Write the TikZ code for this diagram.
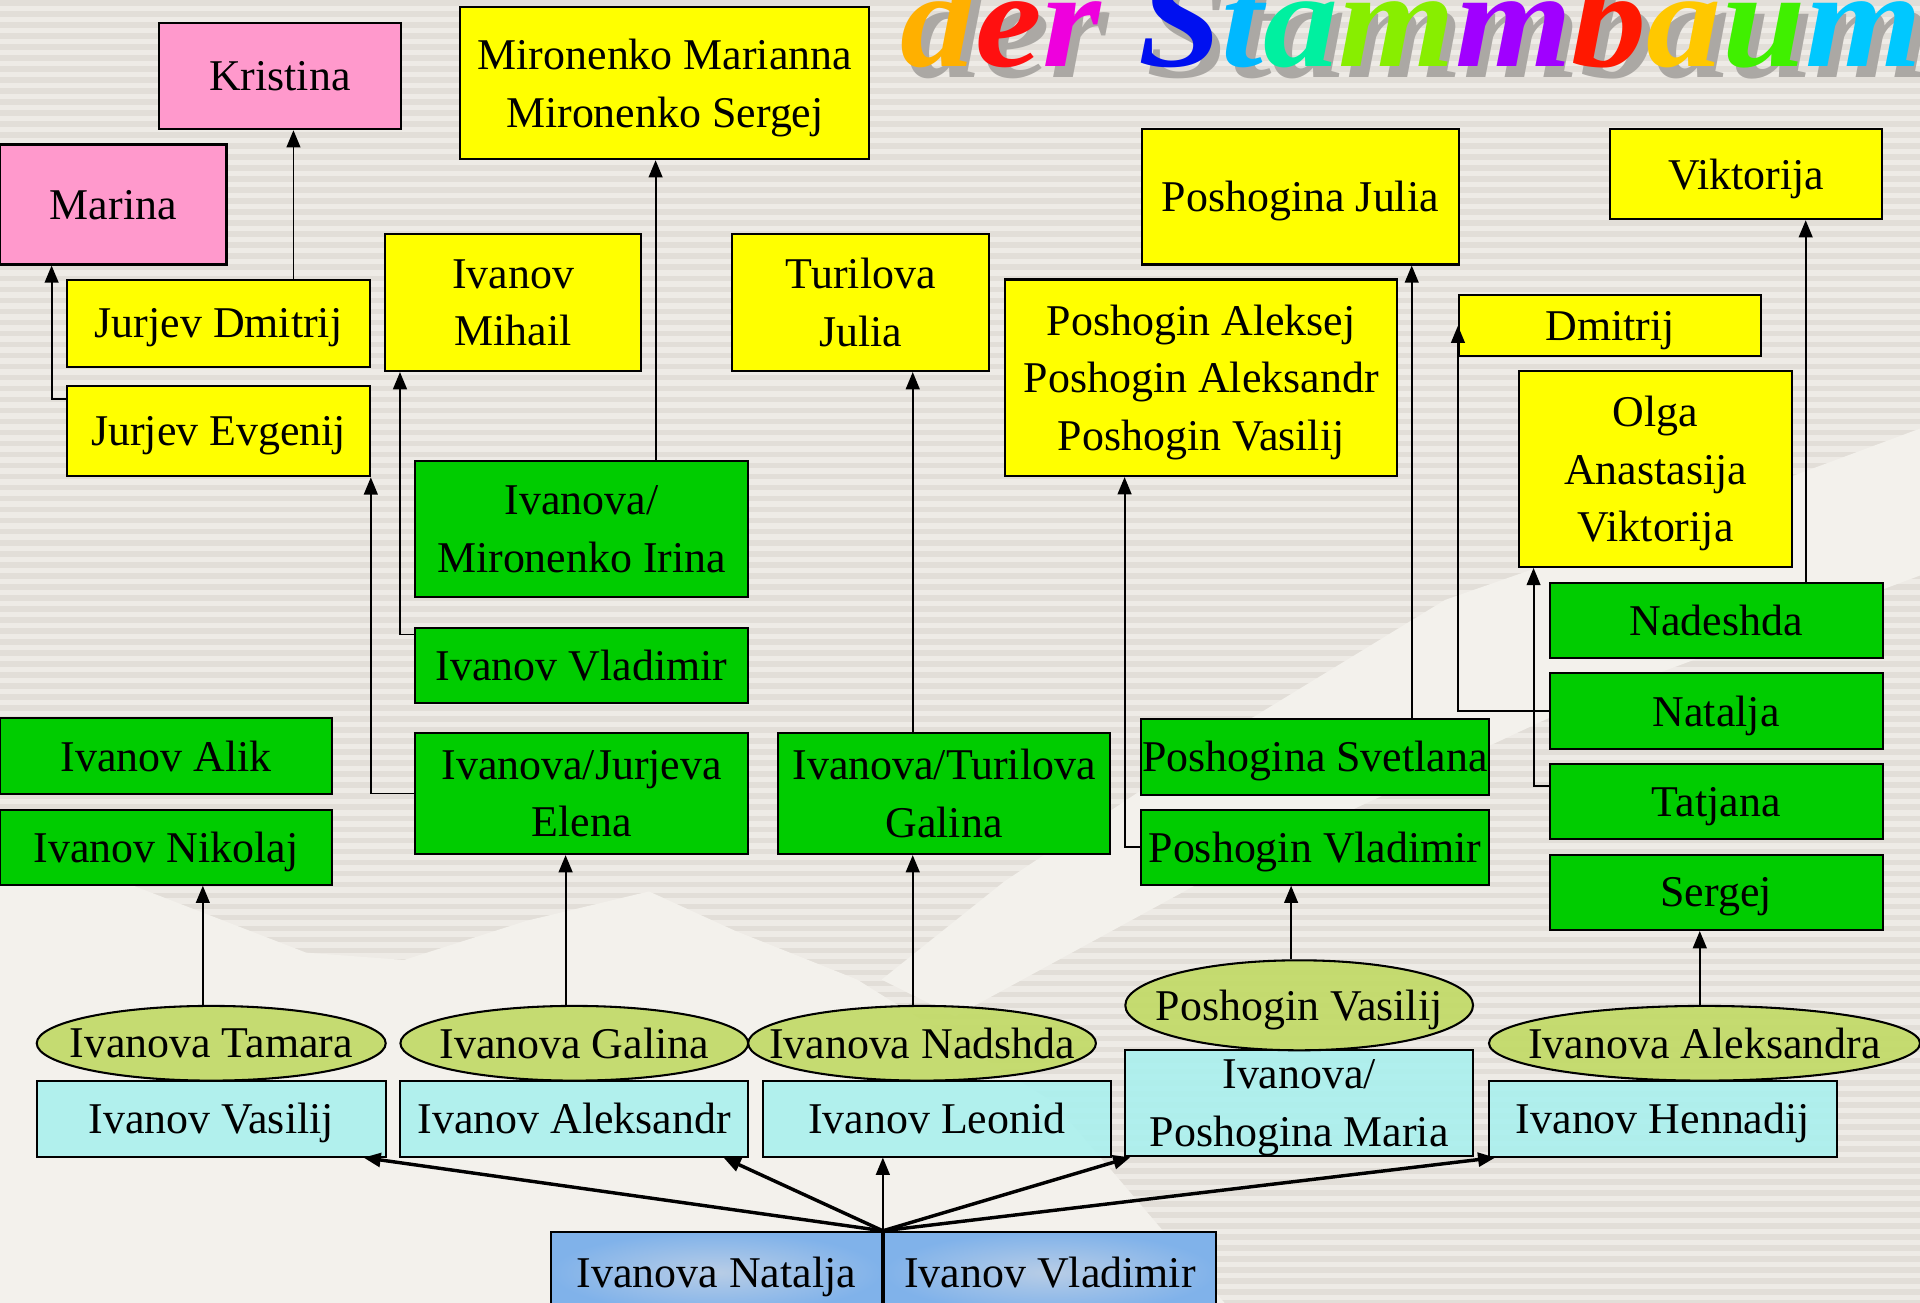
\documentclass[tikz,border=0pt]{standalone}
\usepackage{fontspec}
\setmainfont{Liberation Serif}
\usetikzlibrary{calc,positioning,shapes.geometric,arrows.meta}

\definecolor{cRosa}{HTML}{FF99CC}
\definecolor{cGelb}{HTML}{FFFF00}
\definecolor{cGruen}{HTML}{00CC00}
\definecolor{cOliv}{HTML}{C2DA68}
\definecolor{cTuerkis}{HTML}{AAF0EE}
\definecolor{cBlau}{HTML}{80B2EA}
\definecolor{cBlauhell}{HTML}{B8CDE6}
\definecolor{fondo}{HTML}{EEEBE6}
\definecolor{raya}{HTML}{E2DED8}
\definecolor{nieve}{HTML}{F3F1EC}
\definecolor{sombra}{HTML}{ABA8A4}

\begin{document}
\begin{tikzpicture}[x=0.025cm,y=-0.025cm,>={Triangle[length=10pt,width=8pt]},
  persona/.style={draw,line width=1.2pt,inner sep=0pt,text depth=0pt,
    font=\fontsize{25.5}{33.4}\selectfont},
  groesse/.style 2 args={minimum width=#1*0.025cm,minimum height=#2*0.025cm},
  kasten/.style={persona,rectangle,align=center},
  ururenkel/.style={kasten,fill=cRosa},
  urenkel/.style={kasten,fill=cGelb},
  enkel/.style={kasten,fill=cGruen},
  kind/.style={kasten,fill=cTuerkis,fill opacity=0.9,text opacity=1},
  partner/.style={persona,ellipse,fill=cOliv,fill opacity=0.93,text opacity=1,
    execute at begin node={\hbox to 0pt\bgroup\hss},
    execute at end node={\hss\egroup}},
  eltern/.style={kasten,inner color=cBlauhell,outer color=cBlau},
  linie/.style={->,line width=1.1pt},
  faecher/.style={->,line width=2pt},
  titel/.style={anchor=base west,inner sep=0pt,
    font=\fontsize{80}{88}\selectfont\bfseries\itshape}]

  % Fondo rayado
  \useasboundingbox (0,0) rectangle (1568,1064);
  \fill[fondo] (0,0) rectangle (1568,1064);
  \foreach \y in {0,9,...,1062}
    \fill[raya] (0,\y) rectangle (1568,\y+4.5);

  % Montañas claras
  \fill[nieve] (0,718) -- (90,716) -- (250,778) -- (330,784) -- (430,752)
    -- (530,728) -- (600,760) -- (700,800) -- (860,900) -- (1000,1064)
    -- (0,1064) -- cycle;
  \fill[nieve] (1568,350) -- (1380,420) -- (1180,490) -- (1000,600)
    -- (820,720) -- (720,800) -- (780,830) -- (1000,710) -- (1300,570)
    -- (1568,470) -- cycle;

  % Título
  \begin{scope}
    \clip (0,0) rectangle (1568,1064);
    \node[titel,text=sombra] (schatten) at (742,63)
      {\scalebox{1.09}[1]{der Stammbaum}};
    \node[titel] (stammbaum) at (735,54)
      {\scalebox{1.09}[1]{\textcolor[HTML]{FFB000}{d}\textcolor[HTML]{FF1010}{e}%
        \textcolor[HTML]{EE00DD}{r} \textcolor[HTML]{0010F0}{S}%
        \textcolor[HTML]{00B8FF}{t}\textcolor[HTML]{00F0A0}{a}%
        \textcolor[HTML]{88EE00}{m}\textcolor[HTML]{A000FF}{m}%
        \textcolor[HTML]{FF1800}{b}\textcolor[HTML]{FFC800}{a}%
        \textcolor[HTML]{40F000}{u}\textcolor[HTML]{00C8FF}{m}}};
  \end{scope}

  % Abuelos
  \node[eltern,groesse={270}{66}] (natalja0) at (585,1039) {Ivanova Natalja};
  \node[eltern,groesse={271}{66}] (vladimir0) at (857.5,1039) {Ivanov Vladimir};

  % Hijos
  \node[kind,groesse={285}{62}] (vasilij) at (172.5,913.5) {Ivanov Vasilij};
  \node[kind,groesse={284}{62}] (aleksandr) at (469,913.5) {Ivanov Aleksandr};
  \node[kind,groesse={284}{62}] (leonid) at (765,913.5) {Ivanov Leonid};
  \node[kind,groesse={284}{86.5}] (maria) at (1061,901) {Ivanova/\\Poshogina Maria};
  \node[kind,groesse={284}{62}] (hennadij) at (1358,913.5) {Ivanov Hennadij};

  % Cónyuges
  \node[partner,groesse={285}{61}] (tamara) at (172.5,852) {Ivanova Tamara};
  \node[partner,groesse={284}{61}] (egalina) at (469,852) {Ivanova Galina};
  \node[partner,groesse={284}{61}] (nadshda) at (753,852) {Ivanova Nadshda};
  \node[partner,groesse={284}{73.5}] (pvasilij) at (1061,821) {Poshogin Vasilij};
  \node[partner,groesse={352}{61}] (aleksandra) at (1392,852) {Ivanova Aleksandra};

  % Nietos
  \node[enkel,groesse={271.5}{62}] (alik) at (135.75,617.5) {Ivanov Alik};
  \node[enkel,groesse={271.5}{61}] (nikolaj) at (135.75,692) {Ivanov Nikolaj};
  \node[enkel,groesse={271.5}{111}] (irina) at (475,432) {Ivanova/\\Mironenko Irina};
  \node[enkel,groesse={271.5}{61}] (vladimir) at (475,543.5) {Ivanov Vladimir};
  \node[enkel,groesse={271.5}{99}] (elena) at (475,648) {Ivanova/Jurjeva\\Elena};
  \node[enkel,groesse={271.5}{99}] (galina) at (771,648) {Ivanova/Turilova\\Galina};
  \node[enkel,groesse={284.5}{62}] (svetlana) at (1074,618) {Poshogina Svetlana};
  \node[enkel,groesse={284.5}{61}] (pvladimir) at (1074,692) {Poshogin Vladimir};
  \node[enkel,groesse={272}{61.5}] (nadeshda) at (1401.5,506.5) {Nadeshda};
  \node[enkel,groesse={272}{62}] (natalja) at (1401.5,580.5) {Natalja};
  \node[enkel,groesse={272}{61.5}] (tatjana) at (1401.5,654.75) {Tatjana};
  \node[enkel,groesse={272}{61.5}] (sergej) at (1401.5,728.75) {Sergej};

  % Bisnietos
  \node[urenkel,groesse={334}{124}] (mironenko) at (543,68)
    {Mironenko Marianna\\Mironenko Sergej};
  \node[urenkel,groesse={247}{71}] (dmitrijj) at (178.5,264) {Jurjev Dmitrij};
  \node[urenkel,groesse={247}{74}] (evgenij) at (178.5,352) {Jurjev Evgenij};
  \node[urenkel,groesse={209}{112}] (mihail) at (419,247) {Ivanov\\Mihail};
  \node[urenkel,groesse={210}{112}] (turilovaj) at (703,247) {Turilova\\Julia};
  \node[urenkel,groesse={259.5}{111}] (pjulia) at (1062,160.5) {Poshogina Julia};
  \node[urenkel,groesse={320.5}{160.5}] (poshogin) at (981,308.5)
    {Poshogin Aleksej\\Poshogin Aleksandr\\Poshogin Vasilij};
  \node[urenkel,groesse={222.5}{74}] (viktorija) at (1426,142) {Viktorija};
  \node[urenkel,groesse={247}{50}] (dmitrij) at (1315,266) {Dmitrij};
  \node[urenkel,groesse={222.5}{160}] (olga) at (1352,383)
    {Olga\\Anastasija\\Viktorija};

  % Tataranietos
  \node[ururenkel,groesse={198}{87}] (kristina) at (228.5,62) {Kristina};
  \node[ururenkel,groesse={185}{98}] (marina) at (92.5,167) {Marina};

  % Abanico desde los abuelos
  \coordinate (fan) at ($(natalja0.north east)!0.5!(vladimir0.north west)$);
  \draw[faecher] (fan) -- ($(vasilij.south east)+(-19,0)$);
  \draw[faecher] (fan) -- ($(aleksandr.south east)+(-21,0)$);
  \draw[linie] (fan) -- (fan |- leonid.south);
  \draw[faecher] (fan) -- ($(maria.south west)+(5,0)$);
  \draw[faecher] (fan) -- ($(hennadij.south west)+(6,0)$);

  % Flechas verticales
  \coordinate (a1) at ($(irina.north west)+(197,0)$);
  \coordinate (a2) at ($(dmitrijj.north west)+(185.5,0)$);
  \coordinate (a3) at ($(galina.north west)+(111,0)$);
  \coordinate (a4) at ($(nikolaj.south west)+(166.5,0)$);
  \coordinate (a5) at ($(elena.south west)+(123.5,0)$);
  \coordinate (a6) at ($(pvladimir.south west)+(123.5,0)$);
  \coordinate (a7) at ($(sergej.south west)+(123.5,0)$);
  \coordinate (a8) at ($(svetlana.north west)+(222,0)$);
  \coordinate (a9) at ($(nadeshda.north west)+(210,0)$);
  \draw[linie] (a1) -- (a1 |- mironenko.south);
  \draw[linie] (a2) -- (a2 |- kristina.south);
  \draw[linie] (a3 |- nadshda.north) -- (a3 |- galina.south);
  \draw[linie] (a3) -- (a3 |- turilovaj.south);
  \draw[linie] (a4 |- tamara.north) -- (a4);
  \draw[linie] (a5 |- egalina.north) -- (a5);
  \draw[linie] (a6 |- pvasilij.north) -- (a6);
  \draw[linie] (a7 |- aleksandra.north) -- (a7);
  \draw[linie] (a8) -- (a8 |- pjulia.south);
  \draw[linie] (a9) -- (a9 |- viktorija.south);

  % Flechas en codo
  \draw[linie] ($(evgenij.north west)+(0,11.7)$) -| ($(marina.south west)+(43,0)$);
  \draw[linie] (elena.west) -| (evgenij.south east);
  \draw[linie] ($(vladimir.north west)+(0,6)$) -| ($(mihail.south west)+(13,0)$);
  \draw[linie] (pvladimir.west) -| ($(poshogin.south west)+(98.5,0)$);
  \draw[linie] (natalja.west) -| (dmitrij.west);
  \draw[linie] ($(tatjana.north west)+(0,18.5)$) -| ($(olga.south west)+(12.5,0)$);

\end{tikzpicture}
\end{document}
